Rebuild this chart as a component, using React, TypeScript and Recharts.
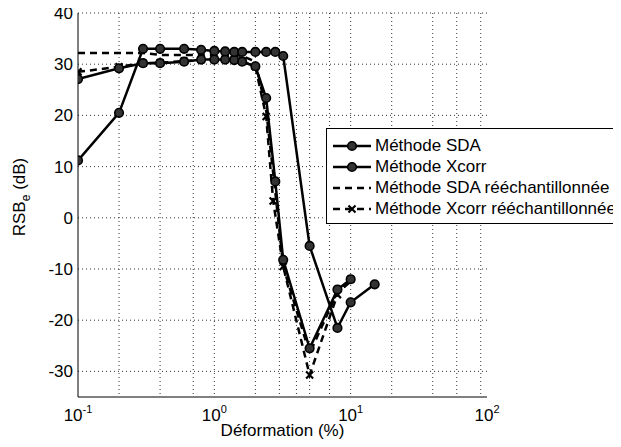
import React from 'react';
import { LineChart, Line, XAxis, YAxis, CartesianGrid, Legend, Label } from 'recharts';

// déformation (%) et RSB_e (dB)
const xSda = [0.1, 0.2, 0.3, 0.4, 0.6, 0.8, 1, 1.2, 1.4, 1.6, 2, 2.4, 2.8, 3.2, 5, 8, 10, 15];
const ySda = [11.2, 20.5, 33, 33, 33, 32.8, 32.6, 32.5, 32.4, 32.4, 32.4, 32.4, 32.4, 31.6, -5.5, -21.5, -16.5, -13];

const xXcorr = [0.1, 0.2, 0.3, 0.4, 0.6, 0.8, 1, 1.2, 1.4, 1.6, 2, 2.4, 2.8, 3.2, 5, 8, 10];
const yXcorr = [27.1, 29.2, 30.2, 30.2, 30.5, 30.9, 30.9, 30.9, 30.8, 30.5, 29.6, 23.4, 7.1, -8.2, -25.5, -14, -12];

const xSdaRe = [0.1, 0.2, 0.3, 0.4, 0.6, 0.8, 1, 1.2, 1.4, 1.6, 2, 2.4, 2.8, 3.2, 5, 8, 10];
const ySdaRe = [32.2, 32.2, 32.2, 31.8, 31.8, 31.8, 31.8, 31.8, 31.8, 31.6, 30.5, 21, 5, -9.5, -26.5, -14.5, -12.5];

const xXcorrRe = [0.1, 0.2, 0.3, 0.4, 0.6, 0.8, 1, 1.2, 1.4, 1.6, 2, 2.4, 2.7, 3.2, 5, 8, 10];
const yXcorrRe = [28.5, 29.5, 30.2, 30.3, 30.6, 30.9, 31, 31, 30.9, 30.6, 29.5, 19.8, 3.3, -9.5, -30.7, -15, -12];

const xTicks = [0.1, 1, 10, 100];
const yTicks = [-30, -20, -10, 0, 10, 20, 30, 40];
const xGrid = [0.2, 0.3, 0.4, 0.5, 0.6, 0.7, 0.8, 0.9, 1, 2, 3, 4, 5, 6, 7, 8, 9, 10, 20, 30, 40, 50, 60, 70, 80, 90];

const legendNames = ['Méthode SDA', 'Méthode Xcorr', 'Méthode SDA rééchantillonnée', 'Méthode Xcorr rééchantillonnée'];

const toPoints = (xs: number[], ys: number[]) => xs.map((x, i) => ({ x, y: ys[i] }));

const FONT = '"Liberation Sans", Arial, Helvetica, sans-serif';

const CircleDot = (props: any) => {
  const { cx, cy, key } = props;
  if (cx == null || cy == null) return null;
  return <circle key={key} cx={cx} cy={cy} r={4.3} fill="#333" stroke="#000" strokeWidth={1.6} />;
};

const CrossDot = (props: any) => {
  const { cx, cy, key } = props;
  if (cx == null || cy == null) return null;
  const s = 3.5;
  return (
    <path
      key={key}
      d={`M${cx - s},${cy - s}L${cx + s},${cy + s}M${cx - s},${cy + s}L${cx + s},${cy - s}`}
      stroke="#000"
      strokeWidth={2.2}
    />
  );
};

const PowerTick = (props: any) => {
  const { x, y, payload } = props;
  const exp = Math.round(Math.log10(payload.value));
  return (
    <text x={x} y={y + 22} textAnchor="middle" fontSize={17} fontFamily={FONT} fill="#000">
      <tspan>10</tspan>
      <tspan dy={-8} fontSize={11}>{exp}</tspan>
    </text>
  );
};

const YLabel = () => (
  <text
    x={25}
    y={197}
    transform="rotate(-90 25 197)"
    textAnchor="middle"
    fontSize={17}
    fontFamily={FONT}
    fill="#000"
  >
    <tspan>RSB</tspan>
    <tspan dy={5} fontSize={12}>e</tspan>
    <tspan dy={-5}> (dB)</tspan>
  </text>
);

const LegendBox = () => (
  <div
    style={{
      border: '1px solid #000',
      background: '#fff',
      width: 300,
      height: 96,
      boxSizing: 'border-box',
      paddingTop: 6,
      fontFamily: FONT,
      fontSize: 17,
    }}
  >
    {legendNames.map((name, i) => (
      <div key={name} style={{ display: 'flex', alignItems: 'center', height: 21 }}>
        <svg width={48} height={20} style={{ flex: 'none' }}>
          <line
            x1={6}
            x2={44}
            y1={10}
            y2={10}
            stroke="#000"
            strokeWidth={2.5}
            strokeDasharray={i >= 2 ? '7 5' : undefined}
          />
          {i < 2 && <circle cx={25} cy={10} r={4.3} fill="#333" stroke="#000" strokeWidth={1.6} />}
          {i === 3 && <path d="M21.5,6.5L28.5,13.5M21.5,13.5L28.5,6.5" stroke="#000" strokeWidth={2.2} />}
        </svg>
        <span style={{ whiteSpace: 'nowrap', lineHeight: '20px' }}>{name}</span>
      </div>
    ))}
  </div>
);

export default function App() {
  return (
    <div style={{ position: 'relative', width: 621, height: 447, margin: -8, overflow: 'hidden', background: '#fff' }}>
      <LineChart width={621} height={447} margin={{ top: 13, right: 134, bottom: 0, left: 10 }}>
        <CartesianGrid
          stroke="#333"
          strokeDasharray="1 3"
          verticalValues={xGrid}
          horizontalValues={yTicks}
        />
        <XAxis
          dataKey="x"
          type="number"
          scale="log"
          domain={[0.1, 100]}
          ticks={xTicks}
          allowDataOverflow
          height={50}
          tickSize={0}
          tickLine={false}
          stroke="#000"
          tick={<PowerTick />}
        >
          <Label value="Déformation (%)" position="insideBottom" offset={11} fontSize={17} fontFamily={FONT} fill="#000" />
        </XAxis>
        <XAxis
          xAxisId="top"
          orientation="top"
          type="number"
          scale="log"
          domain={[0.1, 100]}
          height={0}
          tick={false}
          tickLine={false}
          stroke="#000"
        />
        <YAxis
          type="number"
          domain={[-35, 40]}
          ticks={yTicks}
          width={68}
          tickSize={0}
          tickMargin={5}
          tickLine={false}
          stroke="#000"
          tick={{ fontSize: 17, fontFamily: FONT, fill: '#000' }}
          label={<YLabel />}
        />
        <YAxis
          yAxisId="right"
          orientation="right"
          type="number"
          domain={[-35, 40]}
          width={0}
          tick={false}
          tickLine={false}
          stroke="#000"
        />
        <Legend
          layout="vertical"
          align="center"
          verticalAlign="middle"
          content={<LegendBox />}
          wrapperStyle={{ left: 326, top: 128, width: 300, height: 96 }}
        />
        <Line
          data={toPoints(xSdaRe, ySdaRe)}
          dataKey="y"
          name={legendNames[2]}
          stroke="#000"
          strokeWidth={2.5}
          strokeDasharray="7 5"
          dot={false}
          isAnimationActive={false}
        />
        <Line
          data={toPoints(xXcorrRe, yXcorrRe)}
          dataKey="y"
          name={legendNames[3]}
          stroke="#000"
          strokeWidth={2.5}
          strokeDasharray="7 5"
          dot={CrossDot}
          isAnimationActive={false}
        />
        <Line
          data={toPoints(xXcorr, yXcorr)}
          dataKey="y"
          name={legendNames[1]}
          stroke="#000"
          strokeWidth={2.5}
          dot={CircleDot}
          isAnimationActive={false}
        />
        <Line
          data={toPoints(xSda, ySda)}
          dataKey="y"
          name={legendNames[0]}
          stroke="#000"
          strokeWidth={2.5}
          dot={CircleDot}
          isAnimationActive={false}
        />
      </LineChart>
    </div>
  );
}
